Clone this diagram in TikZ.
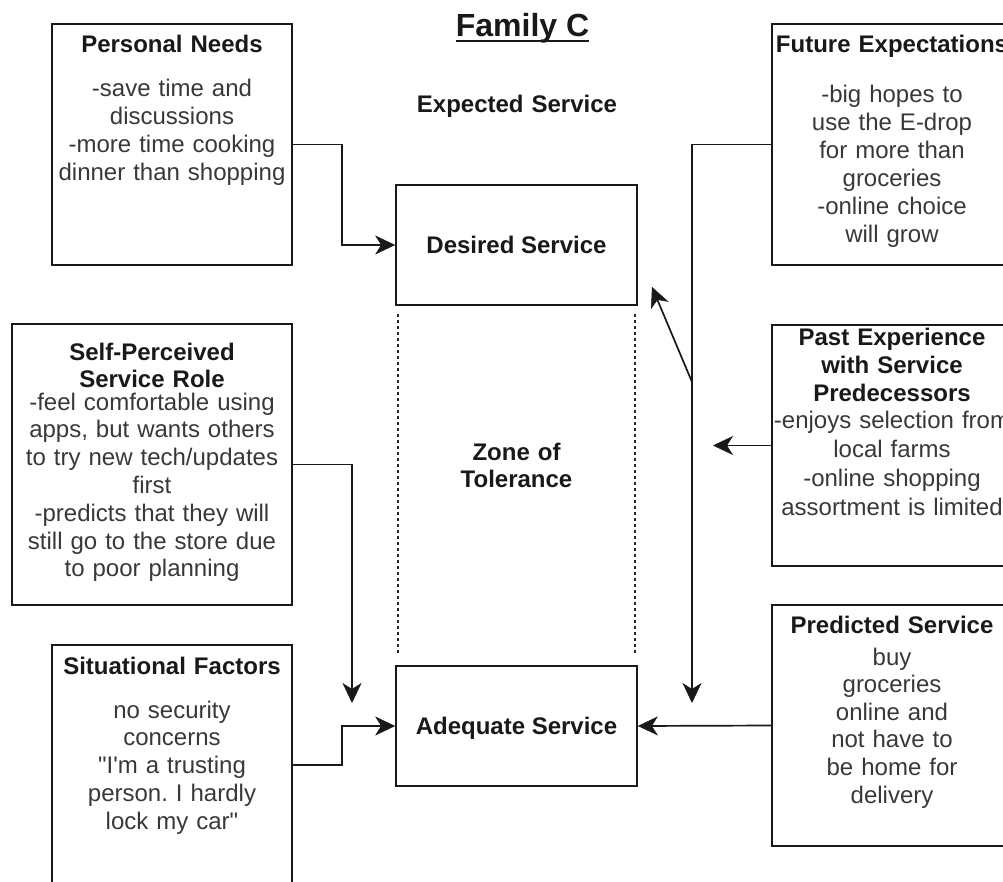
\documentclass[tikz,border=0pt]{standalone}
\usepackage{fontspec}
\newfontfamily\dfont{Liberation Sans}
\usetikzlibrary{arrows.meta}
\frenchspacing
\begin{document}
\begin{tikzpicture}[x=1pt,y=-1pt,
  box/.style={draw=black!90, line width=1.7pt, rectangle, inner sep=0pt},
  sq/.style={minimum width=240pt, minimum height=241pt},
  hd/.style={font=\dfont\bfseries\fontsize{24}{#1}\selectfont, text=black!90,
    anchor=base, inner sep=0pt, align=center, text width=300pt},
  hd/.default=28,
  bd/.style={font=\dfont\fontsize{24}{#1}\selectfont, text=black!78,
    anchor=base, inner sep=0pt, align=center, text width=300pt},
  bd/.default=28,
  link/.style={draw=black!90, line width=1.7pt},
  arr/.style={link, -{Stealth[length=20pt,width=19pt,inset=6pt,line width=0.5pt]}},
  zoneline/.style={draw=black!85, line width=1.5pt, dash pattern=on 3pt off 3pt}
]
\useasboundingbox (0,0) rectangle (1003,882);
\clip (0,0) rectangle (1003,882);

% heading
\node[font=\dfont\bfseries\fontsize{32}{38}\selectfont, text=black!90, anchor=base, inner sep=0pt] (ttl) at (522.5,37) {Family C};
\draw[line width=2.2pt, black!90] ([yshift=-4pt]ttl.base west) -- ([yshift=-4pt]ttl.base east);
\node[hd] (exp) at (517,113) {Expected Service};

% service levels
\node[box, minimum width=241pt, minimum height=120pt, text depth=0pt,
  font=\dfont\bfseries\fontsize{24}{28}\selectfont, text=black!90] (ds) at (516.5,245) {Desired Service};
\node[box, minimum width=241pt, minimum height=120pt, text depth=0pt,
  font=\dfont\bfseries\fontsize{24}{28}\selectfont, text=black!90] (ad) at (516.5,726) {Adequate Service};
\node[hd=27] (zone) at (516.5,460) {Zone of\\Tolerance};
\draw[zoneline] ([shift={(3,8)}]ds.south west) -- ([shift={(3,-12)}]ad.north west);
\draw[zoneline] ([shift={(-3,8)}]ds.south east) -- ([shift={(-3,-12)}]ad.north east);

% influencing factors
\node[box, sq] (pn) at (172,144.5) {};
\node[hd] (pnh) at (172,53) {Personal Needs};
\node[bd] (pnb) at (172,97) {-save time and\\discussions\\-more time cooking\\dinner than shopping};

\node[box, sq] (fe) at (892,144.5) {};
\node[hd] (feh) at (892,53) {Future Expectations};
\node[bd] (feb) at (892,103) {-big hopes to\\use the E-drop\\for more than\\groceries\\-online choice\\will grow};

\node[box, sq] (pe) at (892,445.5) {};
\node[hd] (peh) at (892,345) {Past Experience\\with Service\\Predecessors};
\node[bd=29] (peb) at (892,428) {-enjoys selection from\\local farms\\-online shopping\\assortment is limited};

\node[box, minimum width=280pt, minimum height=281pt] (sp) at (152,464.5) {};
\node[hd=27] (sph) at (152,360) {Self-Perceived\\Service Role};
\node[bd=27.8] (spb) at (152,410) {-feel comfortable using\\apps, but wants others\\to try new tech/updates\\first\\-predicts that they will\\still go to the store due\\to poor planning};

\node[box, minimum width=240pt, minimum height=240pt] (sf) at (172,765) {};
\node[hd] (sfh) at (172,674) {Situational Factors};
\node[bd=27.8] (sfb) at (172,718) {no security\\concerns\\"I'm a trusting\\person. I hardly\\lock my car"};

\node[box, sq] (ps) at (892,725.5) {};
\node[hd] (psh) at (892,633) {Predicted Service};
\node[bd=27.6] (psb) at (892,665) {buy\\groceries\\online and\\not have to\\be home for\\delivery};

% connectors
\coordinate (feEnd) at (692,703);
\coordinate (jn) at (692,382);
\coordinate (dsTip) at (652,287);
\coordinate (peTip) at (713,445.5);
\coordinate (spTip) at (352,703);

\draw[arr] (pn.east) -- ++(49,0) |- (ds.west);
\draw[arr] (fe.west) -| (feEnd);
\draw[arr] (jn) -- (dsTip);
\draw[arr] (pe.west) -- (peTip);
\draw[arr] (sp.east) -| (spTip);
\draw[arr] (sf.east) -- ++(49,0) |- (ad.west);
\draw[arr] (ps.west) -- (ad.east);
\end{tikzpicture}
\end{document}
